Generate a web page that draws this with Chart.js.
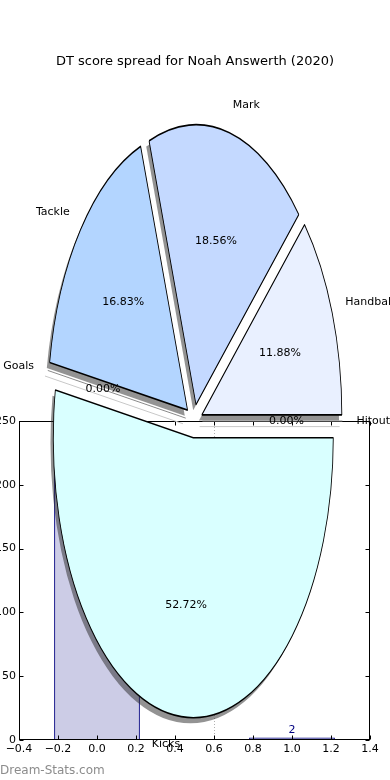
<!DOCTYPE html>
<html lang="en">
<head>
<meta charset="UTF-8">
<title>DT score spread for Noah Answerth (2020)</title>
<style>
    body { margin: 0; background: #fff; font-family: 'DejaVu Sans', sans-serif; }
    .wrap { position: relative; width: 390px; height: 780px; overflow: hidden; }
    .wrap canvas { position: absolute; left: 0; top: 0; }
    .title { position: absolute; top: 52px; left: 0; width: 390px; text-align: center; font-size: 13px; line-height: 18px; color: #000; }
    .mark { position: absolute; left: 0; top: 762px; font-size: 12px; line-height: 16px; color: #8c8c8c; }
</style>
</head>
<body>
<div class="wrap">
    <canvas id="bars" width="390" height="780"></canvas>
    <canvas id="pie" width="390" height="780"></canvas>
    <div class="title">DT score spread for Noah Answerth (2020)</div>
    <div class="mark">Dream-Stats.com</div>
</div>

<script src="https://cdn.jsdelivr.net/npm/chart.js"></script>
<script>
    // pie slices, in drawing order (clockwise from east)
    const pieLabels = ['Hitout', 'Kicks', 'Goals', 'Tackle', 'Mark', 'Handball'];
    const pieShares = [0, 52.72, 0, 16.83, 18.56, 11.88];

    // bar series under the pie
    const barX = [0, 1];
    const barValues = [300, 2];
    const xTicks = [-0.4, -0.2, 0, 0.2, 0.4, 0.6, 0.8, 1.0, 1.2, 1.4];
    const yTicks = [0, 50, 100, 150, 200, 250];

    const pieColors = ['#ffffff', '#d9ffff', '#ffffff', '#b3d5ff', '#c4d9ff', '#e9f0ff'];
    const EXPLODE = 0.06;     // fraction of radius
    const STRETCH = 2;        // pie is drawn as a tall ellipse
    const SHADOW = 'rgba(40,40,40,0.5)';
    const FONT = "11px 'DejaVu Sans', sans-serif";
    const BAR_WIDTH = 0.44;
    const TICK_STEP = 0.2;
    const GUIDE_X = 0.6;

    function stretch(ctx, cx, cy) {
        ctx.translate(cx, cy);
        ctx.scale(1, STRETCH);
        ctx.translate(-cx, -cy);
    }

    const pieShapes = {
        id: 'pieShapes',
        beforeDatasetsDraw(chart) {
            const ctx = chart.ctx;
            const a = chart.chartArea;
            const cx = (a.left + a.right) / 2, cy = (a.top + a.bottom) / 2;
            const arcs = chart.getDatasetMeta(0).data;
            arcs.forEach(function (arc) {
                const mid = (arc.startAngle + arc.endAngle) / 2;
                arc.x = cx + Math.cos(mid) * arc.outerRadius * EXPLODE;
                arc.y = cy + Math.sin(mid) * arc.outerRadius * EXPLODE;
            });
            const r = arcs[0].outerRadius;
            // drop shadows
            ctx.save();
            ctx.translate(-0.02 * r, 0.02 * r * STRETCH);
            stretch(ctx, cx, cy);
            ctx.fillStyle = SHADOW;
            arcs.forEach(function (arc) {
                if (arc.endAngle - arc.startAngle <= 0) return;
                ctx.beginPath();
                ctx.moveTo(arc.x, arc.y);
                ctx.arc(arc.x, arc.y, arc.outerRadius, arc.startAngle, arc.endAngle);
                ctx.closePath();
                ctx.fill();
            });
            ctx.restore();
            ctx.save();
            stretch(ctx, cx, cy);
        },
        afterDatasetsDraw(chart) {
            const ctx = chart.ctx;
            ctx.restore();
            const a = chart.chartArea;
            const cy = (a.top + a.bottom) / 2;
            const arcs = chart.getDatasetMeta(0).data;
            const r = arcs[0].outerRadius;
            function pt(arc, k, ang) {
                return {
                    x: arc.x + Math.cos(ang) * r * k,
                    y: cy + STRETCH * (arc.y - cy + Math.sin(ang) * r * k)
                };
            }
            ctx.save();
            // zero-size slices show up as bare edges
            arcs.forEach(function (arc) {
                if (arc.endAngle - arc.startAngle > 0) return;
                const p0 = pt(arc, 0, arc.startAngle), p1 = pt(arc, 1, arc.startAngle);
                ctx.lineWidth = 1;
                ctx.strokeStyle = '#c8c8c8';
                ctx.beginPath();
                ctx.moveTo(p0.x - 0.02 * r, p0.y + 0.02 * r * STRETCH);
                ctx.lineTo(p1.x - 0.02 * r, p1.y + 0.02 * r * STRETCH);
                ctx.stroke();
                ctx.strokeStyle = '#8a8a8a';
                ctx.beginPath();
                ctx.moveTo(p0.x, p0.y);
                ctx.lineTo(p1.x, p1.y);
                ctx.stroke();
            });
            ctx.font = FONT;
            ctx.fillStyle = '#000';
            ctx.textBaseline = 'middle';
            arcs.forEach(function (arc, i) {
                const mid = (arc.startAngle + arc.endAngle) / 2;
                const lp = pt(arc, 1.1, mid);
                ctx.textAlign = Math.cos(mid) > 0 ? 'left' : 'right';
                ctx.fillText(pieLabels[i], lp.x, lp.y);
                const pp = pt(arc, 0.6, mid);
                ctx.textAlign = 'center';
                ctx.fillText(pieShares[i].toFixed(2) + '%', pp.x, pp.y);
            });
            ctx.restore();
        }
    };

    const axesBox = {
        id: 'axesBox',
        beforeDatasetsDraw(chart) {
            const ctx = chart.ctx, a = chart.chartArea;
            const gx = Math.round(chart.scales.x.getPixelForValue(GUIDE_X)) + 0.5;
            ctx.save();
            ctx.strokeStyle = '#b0b0b0';
            ctx.setLineDash([1, 2]);
            ctx.beginPath();
            ctx.moveTo(gx, a.top);
            ctx.lineTo(gx, a.bottom);
            ctx.stroke();
            ctx.restore();
        },
        afterDatasetsDraw(chart) {
            const ctx = chart.ctx;
            const meta = chart.getDatasetMeta(0);
            ctx.save();
            ctx.font = FONT;
            ctx.fillStyle = '#000080';
            ctx.textAlign = 'center';
            ctx.textBaseline = 'bottom';
            meta.data.forEach(function (bar, i) {
                ctx.fillText(String(barValues[i]), bar.x, bar.y - 2);
            });
            ctx.restore();
        },
        afterDraw(chart) {
            const ctx = chart.ctx, a = chart.chartArea;
            const L = a.left + 0.5, R = a.right - 0.5, T = a.top + 0.5, B = a.bottom - 0.5;
            ctx.save();
            ctx.strokeStyle = '#000';
            ctx.lineWidth = 1;
            ctx.strokeRect(L, T, R - L, B - T);
            ctx.beginPath();
            xTicks.forEach(function (v) {
                const x = Math.round(chart.scales.x.getPixelForValue(v)) + 0.5;
                ctx.moveTo(x, B); ctx.lineTo(x, B - 4);
                ctx.moveTo(x, T); ctx.lineTo(x, T + 4);
            });
            yTicks.forEach(function (v) {
                const y = Math.round(chart.scales.y.getPixelForValue(v)) + 0.5;
                ctx.moveTo(L, y); ctx.lineTo(L + 4, y);
                ctx.moveTo(R, y); ctx.lineTo(R - 4, y);
            });
            ctx.stroke();
            ctx.restore();
        }
    };

    Chart.defaults.font.family = "'DejaVu Sans', sans-serif";
    Chart.defaults.font.size = 11;
    Chart.defaults.color = '#000';

    new Chart(document.getElementById('bars'), {
        type: 'bar',
        data: {
            datasets: [{
                data: barX.map(function (x, i) { return { x: x, y: barValues[i] }; }),
                backgroundColor: 'rgba(0,0,128,0.2)',
                borderColor: '#000080',
                borderWidth: 1,
                borderSkipped: false,
                categoryPercentage: 1,
                barPercentage: BAR_WIDTH / TICK_STEP
            }]
        },
        options: {
            responsive: false,
            animation: false,
            devicePixelRatio: 1,
            layout: { padding: { top: 421, right: 20, left: 0, bottom: 0 } },
            plugins: { legend: { display: false }, tooltip: { enabled: false } },
            scales: {
                x: {
                    type: 'linear',
                    offset: false,
                    min: -0.4,
                    max: 1.4,
                    grid: { display: false, drawTicks: false },
                    border: { display: false },
                    afterBuildTicks: function (s) { s.ticks = xTicks.map(function (v) { return { value: v }; }); },
                    afterFit: function (s) { s.height = 40; },
                    ticks: {
                        padding: 3,
                        maxRotation: 0,
                        callback: function (v) { return Number(v).toFixed(1).replace('-', '\u2212'); }
                    }
                },
                y: {
                    min: 0,
                    max: 250,
                    grid: { display: false, drawTicks: false },
                    border: { display: false },
                    afterBuildTicks: function (s) { s.ticks = yTicks.map(function (v) { return { value: v }; }); },
                    afterFit: function (s) { s.width = 19; },
                    ticks: { padding: 3 }
                }
            }
        },
        plugins: [axesBox]
    });

    new Chart(document.getElementById('pie'), {
        type: 'pie',
        data: {
            labels: pieLabels,
            datasets: [{
                data: pieShares,
                backgroundColor: pieColors,
                borderColor: '#000',
                borderWidth: 0.85,
                clip: false
            }]
        },
        options: {
            responsive: false,
            animation: false,
            devicePixelRatio: 1,
            rotation: 90,
            radius: 140,
            layout: { padding: { top: 62, right: 2, left: 0, bottom: 0 } },
            plugins: { legend: { display: false }, tooltip: { enabled: false } }
        },
        plugins: [pieShapes]
    });
</script>
</body>
</html>
